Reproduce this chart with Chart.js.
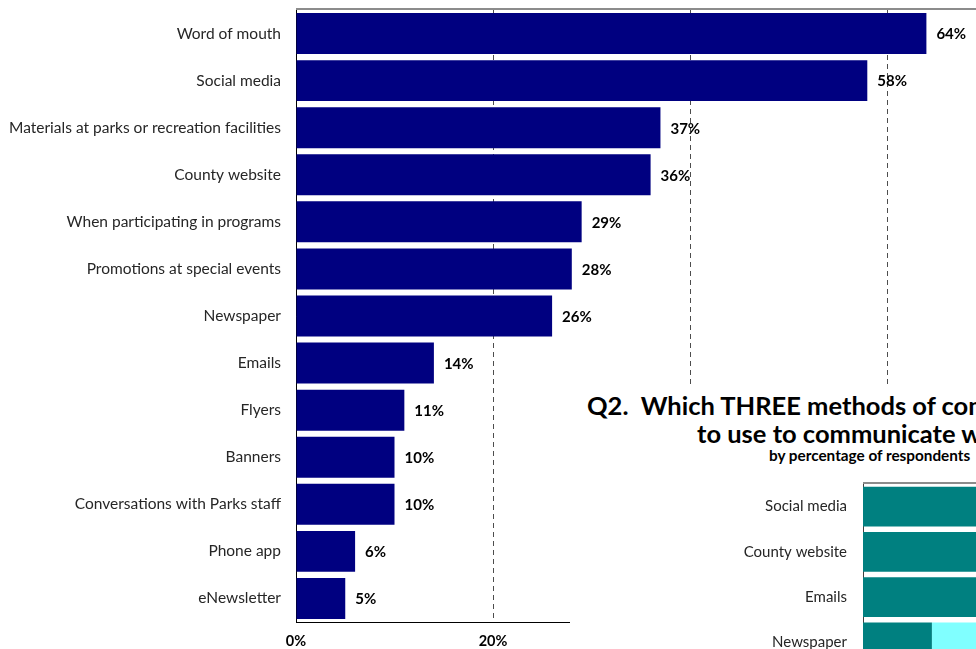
<!DOCTYPE html>
<html>
<head>
<meta charset="utf-8">
<script src="https://cdn.jsdelivr.net/npm/chart.js@4/dist/chart.umd.min.js"></script>
<style>
  html, body { margin: 0; padding: 0; background: #fff; overflow: hidden; width: 976px; height: 649px; }
  #main { position: absolute; left: 0; top: 0; }
  #q2 { position: absolute; left: 570px; top: 384px; width: 1000px; height: 400px; background: #fff; }
  #q2 canvas { position: absolute; left: 0; top: 0; }
  .q2title { position: absolute; white-space: nowrap; font-family: Lato, sans-serif; font-weight: bold; line-height: 1; color: #000; }
  #t1 { left: 17px; top: 9px; font-size: 25.5px; }
  #t2 { left: 127px; top: 37px; font-size: 25.5px; }
  #t3 { left: 199px; top: 64px; font-size: 15.3px; }
</style>
</head>
<body>
<canvas id="main" width="1200" height="649"></canvas>
<div id="q2">
  <div class="q2title" id="t1">Q2.&nbsp; Which THREE methods of communication would you most prefer the County</div>
  <div class="q2title" id="t2">to use to communicate with you?</div>
  <div class="q2title" id="t3">by percentage of respondents</div>
  <canvas id="q2Canvas" width="1000" height="300"></canvas>
</div>
<script>
// Q1 - how respondents hear about programs
const categories = [
  "Word of mouth",
  "Social media",
  "Materials at parks or recreation facilities",
  "County website",
  "When participating in programs",
  "Promotions at special events",
  "Newspaper",
  "Emails",
  "Flyers",
  "Banners",
  "Conversations with Parks staff",
  "Phone app",
  "eNewsletter"
];
const percentages = [64, 58, 37, 36, 29, 28, 26, 14, 11, 10, 10, 6, 5];
const tickValues = [0, 20, 40, 60, 80];

// Q2 - preferred methods (stacked: first choice + other choices)
const q2Categories = ["Social media", "County website", "Emails", "Newspaper"];
const q2FirstChoice = [30, 22, 16, 7];
const q2OtherChoices = [20, 24, 22, 14];

const labelFont = "Lato, sans-serif";

// gray rule along the top of the plot area
const topRule = {
  id: "topRule",
  beforeDatasetsDraw(chart) {
    const { ctx, chartArea } = chart;
    ctx.save();
    ctx.strokeStyle = "#8c8c8c";
    ctx.lineWidth = 2;
    ctx.beginPath();
    ctx.moveTo(chartArea.left, chartArea.top - 1);
    ctx.lineTo(chartArea.right, chartArea.top - 1);
    ctx.stroke();
    ctx.restore();
  }
};

// "64%" etc. after the end of each bar
const barValueLabels = {
  id: "barValueLabels",
  afterDatasetsDraw(chart) {
    const { ctx } = chart;
    const meta = chart.getDatasetMeta(0);
    ctx.save();
    ctx.font = "bold 15px " + labelFont;
    ctx.fillStyle = "#000";
    ctx.textBaseline = "middle";
    meta.data.forEach((bar, i) => {
      ctx.fillText(chart.data.datasets[0].data[i] + "%", bar.x + 10, bar.y + 1);
    });
    ctx.restore();
  }
};

// fixed label column, no extra room reserved for the first/last label
function fixedLabelColumn(width) {
  return (scale) => {
    scale.width = width;
    scale.paddingTop = 0;
    scale.paddingBottom = 0;
  };
}

const mainChart = new Chart(document.getElementById("main"), {
  type: "bar",
  data: {
    labels: categories,
    datasets: [{
      data: percentages,
      backgroundColor: "#000080",
      barPercentage: 0.87,
      categoryPercentage: 1
    }]
  },
  options: {
    indexAxis: "y",
    responsive: false,
    animation: false,
    layout: { padding: { left: 0, top: 10, right: 116, bottom: 0 } },
    plugins: { legend: { display: false }, tooltip: { enabled: false } },
    scales: {
      x: {
        min: 0,
        max: 80,
        afterBuildTicks: (scale) => { scale.ticks = tickValues.map(v => ({ value: v })); },
        afterFit: (scale) => { scale.height = 27; scale.paddingLeft = 0; scale.paddingRight = 0; },
        grid: { color: "#4d4d4d", lineWidth: 1, drawTicks: false },
        border: { color: "#000", width: 1, dash: [5, 4] },
        ticks: {
          padding: 11,
          color: "#000",
          font: { family: labelFont, size: 14.5, weight: "bold" },
          callback: (v) => v + "%"
        }
      },
      y: {
        afterFit: fixedLabelColumn(296),
        grid: { display: false, drawTicks: false },
        border: { color: "#000", width: 1 },
        ticks: {
          padding: 15,
          color: "#262626",
          font: { family: labelFont, size: 15.5 }
        }
      }
    }
  },
  plugins: [topRule, barValueLabels]
});

const q2Chart = new Chart(document.getElementById("q2Canvas"), {
  type: "bar",
  data: {
    labels: q2Categories,
    datasets: [
      { data: q2FirstChoice, backgroundColor: "#008080", barPercentage: 0.88, categoryPercentage: 1 },
      { data: q2OtherChoices, backgroundColor: "#80ffff", barPercentage: 0.88, categoryPercentage: 1 }
    ]
  },
  options: {
    indexAxis: "y",
    responsive: false,
    animation: false,
    layout: { padding: { left: 0, top: 100, right: 18, bottom: 19 } },
    plugins: { legend: { display: false }, tooltip: { enabled: false } },
    scales: {
      x: { stacked: true, min: 0, max: 70, display: false },
      y: {
        stacked: true,
        afterFit: fixedLabelColumn(293),
        grid: { display: false, drawTicks: false },
        border: { color: "#404040", width: 1 },
        ticks: {
          padding: 16,
          color: "#262626",
          font: { family: labelFont, size: 15 }
        }
      }
    }
  },
  plugins: [topRule]
});
</script>
</body>
</html>
